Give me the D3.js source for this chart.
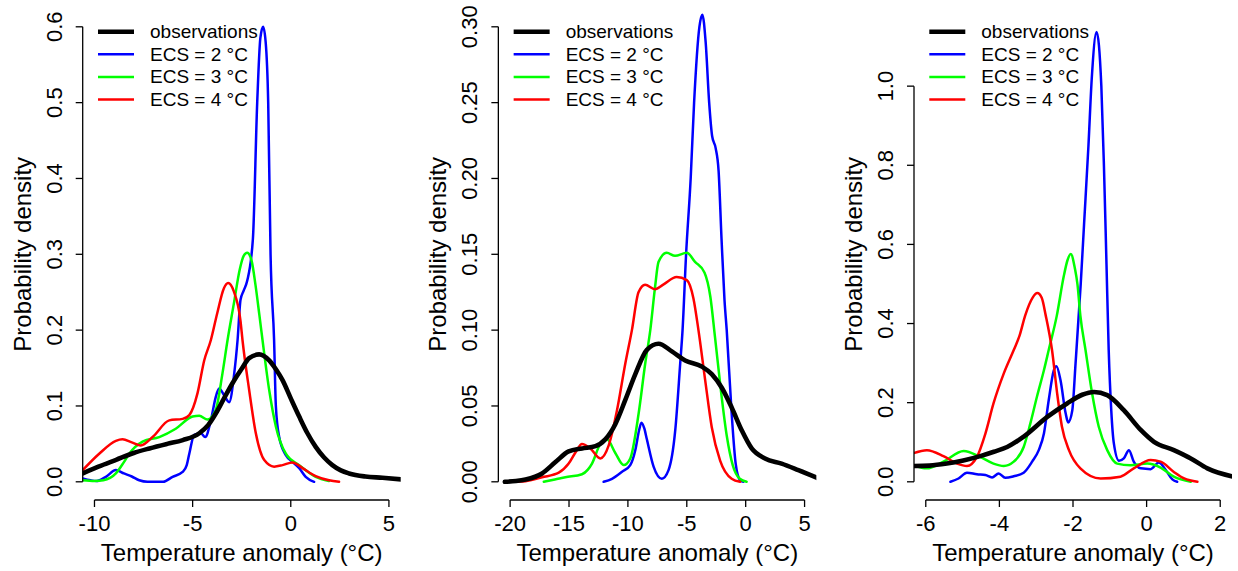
<!DOCTYPE html>
<html>
<head>
<meta charset="utf-8">
<script src="https://cdn.jsdelivr.net/npm/d3@7"></script>
<style>
  html, body { margin: 0; padding: 0; background: #fff; }
  svg { display: block; font-family: "Liberation Sans", Arial, Helvetica, sans-serif; }
</style>
</head>
<body>
<svg id="chart" width="1238" height="571"></svg>
<script>
// ---------- data ----------
const seriesNames = ["observations", "ECS = 2 °C", "ECS = 3 °C", "ECS = 4 °C"];
const seriesColors = ["#000000", "#0000ff", "#00ff00", "#ff0000"];

// Panel 1
const p1XLim = [-10, 5];
const p1YLim = [0, 0.6];
const p1XTicks = [-10, -5, 0, 5];
const p1YTicks = [0, 0.1, 0.2, 0.3, 0.4, 0.5, 0.6];
const p1YTickLabels = ["0.0", "0.1", "0.2", "0.3", "0.4", "0.5", "0.6"];
const p1Obs = [[-10.6,0.011],[-9.8,0.02],[-8.9,0.029],[-8.0,0.038],[-7.2,0.044],[-6.3,0.05],[-5.5,0.055],[-4.66,0.064],[-4.2,0.075],[-3.82,0.09],[-3.4,0.11],[-2.97,0.13],[-2.5,0.149],[-2.12,0.163],[-1.61,0.168],[-1.1,0.16],[-0.75,0.148],[-0.42,0.134],[0,0.11],[0.43,0.086],[0.85,0.064],[1.27,0.046],[1.7,0.032],[2.12,0.022],[2.55,0.015],[2.97,0.011],[3.8,0.007],[4.67,0.0053],[5.7,0.003]];
const p1Ecs2 = [[-10.6,0.0045],[-10.2,0.002],[-9.89,0.001],[-9.42,0.0066],[-8.91,0.0154],[-8.5,0.011],[-8.1,0.007],[-7.72,0.002],[-7.3,0],[-6.5,0],[-6.02,0.0066],[-5.51,0.013],[-5.3,0.022],[-5.17,0.037],[-4.92,0.062],[-4.58,0.064],[-4.36,0.059],[-4.07,0.081],[-3.82,0.112],[-3.65,0.123],[-3.39,0.114],[-3.14,0.105],[-2.88,0.143],[-2.71,0.187],[-2.56,0.24],[-2.4,0.252],[-2.22,0.265],[-1.93,0.32],[-1.71,0.5],[-1.55,0.585],[-1.41,0.6],[-1.28,0.58],[-1.15,0.5],[-1.03,0.3],[-0.85,0.187],[-0.76,0.1],[-0.59,0.059],[-0.25,0.035],[0.1,0.026],[0.43,0.018],[0.76,0.0066],[1.19,0]];
const p1Ecs3 = [[-10.6,0.002],[-10,0.001],[-9.55,0.002],[-8.91,0.011],[-8.5,0.026],[-8.23,0.037],[-7.55,0.053],[-6.7,0.059],[-5.86,0.07],[-5.0,0.086],[-4.66,0.087],[-4.24,0.082],[-3.82,0.095],[-3.48,0.143],[-3.22,0.187],[-2.9,0.235],[-2.6,0.28],[-2.4,0.298],[-2.22,0.302],[-2.0,0.292],[-1.8,0.26],[-1.6,0.22],[-1.44,0.187],[-1.1,0.121],[-0.76,0.073],[-0.25,0.037],[0.43,0.022],[1.27,0.0066],[1.95,0.001]];
const p1Ecs4 = [[-10.6,0.0154],[-9.76,0.037],[-8.91,0.054],[-8.57,0.056],[-8.1,0.052],[-7.64,0.048],[-7.04,0.059],[-6.19,0.081],[-5.51,0.083],[-5.17,0.088],[-4.75,0.117],[-4.41,0.16],[-4.07,0.187],[-3.75,0.222],[-3.41,0.255],[-3.19,0.262],[-2.9,0.251],[-2.56,0.212],[-2.46,0.187],[-2.12,0.121],[-1.78,0.064],[-1.35,0.0286],[-0.85,0.02],[-0.42,0.022],[0.09,0.0256],[0.6,0.018],[1.27,0.0075],[1.95,0.002],[2.46,0]];

// Panel 2
const p2XLim = [-20, 5];
const p2YLim = [0, 0.3];
const p2XTicks = [-20, -15, -10, -5, 0, 5];
const p2YTicks = [0, 0.05, 0.10, 0.15, 0.20, 0.25, 0.30];
const p2YTickLabels = ["0.00", "0.05", "0.10", "0.15", "0.20", "0.25", "0.30"];
const p2Obs = [[-20.45,0],[-19.5,0.0005],[-18.69,0.0015],[-17.29,0.0055],[-16.15,0.013],[-15.03,0.02],[-13.9,0.022],[-12.76,0.0235],[-11.92,0.028],[-11.07,0.038],[-10.22,0.054],[-9.37,0.071],[-8.39,0.087],[-7.4,0.091],[-6.27,0.086],[-5.14,0.080],[-3.73,0.076],[-2.88,0.071],[-2.03,0.062],[-1.19,0.049],[-0.34,0.034],[0.51,0.022],[1.64,0.0154],[3.05,0.012],[4.47,0.0077],[6.07,0.0026]];
const p2Ecs2 = [[-12.06,0],[-11.35,0.002],[-10.5,0.0066],[-9.8,0.011],[-9.37,0.021],[-9.05,0.034],[-8.85,0.039],[-8.6,0.035],[-8.39,0.028],[-7.82,0.01],[-7.12,0.002],[-6.55,0.0077],[-5.98,0.034],[-5.56,0.078],[-5.36,0.1],[-5.06,0.15],[-4.67,0.2],[-4.38,0.25],[-3.93,0.3],[-3.68,0.308],[-3.4,0.29],[-3.1,0.25],[-2.85,0.228],[-2.55,0.22],[-2.3,0.205],[-2.05,0.16],[-1.8,0.12],[-1.61,0.1],[-1.19,0.045],[-0.85,0.012],[-0.47,0.001],[-0.2,0]];
const p2Ecs3 = [[-17.14,0],[-16.2,0.0015],[-15.31,0.003],[-13.9,0.005],[-13.4,0.008],[-13.05,0.012],[-12.34,0.025],[-11.78,0.028],[-11.07,0.019],[-10.36,0.011],[-9.8,0.0154],[-9.09,0.045],[-8.53,0.078],[-8.1,0.1],[-7.7,0.128],[-7.4,0.145],[-6.7,0.151],[-6.0,0.149],[-5.0,0.151],[-4.3,0.145],[-3.5,0.138],[-3.0,0.122],[-2.6,0.095],[-2.1,0.06],[-1.6,0.03],[-1.1,0.011],[-0.5,0.002],[0.08,0]];
const p2Ecs4 = [[-20.0,0],[-18.69,0.0004],[-17.29,0.003],[-15.87,0.006],[-15.03,0.012],[-14.4,0.02],[-13.9,0.025],[-13.19,0.022],[-12.34,0.0154],[-11.63,0.024],[-10.93,0.047],[-10.22,0.078],[-9.66,0.1],[-9.1,0.125],[-8.54,0.13],[-7.7,0.127],[-7.0,0.13],[-5.86,0.135],[-5.0,0.133],[-4.44,0.121],[-4.01,0.1],[-3.44,0.067],[-2.88,0.036],[-2.17,0.014],[-1.19,0.002],[-0.47,0]];

// Panel 3
const p3XLim = [-6, 2];
const p3YLim = [0, 1.15];
const p3XTicks = [-6, -4, -2, 0, 2];
const p3YTicks = [0, 0.2, 0.4, 0.6, 0.8, 1.0];
const p3YTickLabels = ["0.0", "0.2", "0.4", "0.6", "0.8", "1.0"];
const p3Obs = [[-6.4,0.04],[-5.9,0.041],[-5.43,0.046],[-4.98,0.054],[-4.52,0.065],[-4.15,0.076],[-3.79,0.088],[-3.34,0.114],[-2.7,0.164],[-2.16,0.198],[-1.75,0.22],[-1.43,0.227],[-1.07,0.219],[-0.62,0.181],[-0.16,0.131],[0.2,0.101],[0.74,0.080],[1.2,0.059],[1.65,0.034],[2.4,0.012]];
const p3Ecs2 = [[-5.33,0],[-5.11,0.0084],[-4.88,0.023],[-4.61,0.019],[-4.38,0.017],[-4.2,0.011],[-4.02,0.021],[-3.84,0.01],[-3.61,0.014],[-3.34,0.023],[-3.11,0.051],[-2.93,0.08],[-2.79,0.122],[-2.66,0.206],[-2.52,0.282],[-2.45,0.292],[-2.34,0.257],[-2.2,0.173],[-2.13,0.15],[-2.02,0.18],[-1.93,0.3],[-1.79,0.5],[-1.7,0.65],[-1.58,0.85],[-1.49,1.02],[-1.36,1.137],[-1.23,1.0],[-1.16,0.8],[-1.09,0.55],[-1.03,0.333],[-0.96,0.18],[-0.89,0.097],[-0.75,0.053],[-0.62,0.059],[-0.48,0.08],[-0.35,0.051],[-0.16,0.034],[0.11,0.032],[0.33,0.049],[0.52,0.03],[0.7,0.006],[0.83,0]];
const p3Ecs3 = [[-6.4,0.043],[-5.97,0.034],[-5.52,0.051],[-4.97,0.078],[-4.52,0.063],[-4.16,0.046],[-3.88,0.04],[-3.61,0.051],[-3.34,0.088],[-3.16,0.147],[-2.98,0.215],[-2.79,0.282],[-2.66,0.333],[-2.44,0.42],[-2.25,0.52],[-2.15,0.56],[-2.06,0.576],[-1.95,0.54],[-1.88,0.5],[-1.8,0.42],[-1.66,0.333],[-1.48,0.223],[-1.3,0.139],[-1.07,0.080],[-0.8,0.046],[-0.44,0.042],[0.02,0.046],[0.38,0.036],[0.74,0.013],[1.2,0]];
const p3Ecs4 = [[-6.4,0.07],[-5.97,0.08],[-5.52,0.065],[-5.15,0.046],[-4.88,0.04],[-4.61,0.063],[-4.38,0.122],[-4.16,0.198],[-3.88,0.274],[-3.61,0.333],[-3.45,0.37],[-3.3,0.42],[-3.1,0.465],[-2.97,0.477],[-2.85,0.465],[-2.74,0.42],[-2.57,0.333],[-2.43,0.223],[-2.3,0.139],[-2.11,0.08],[-1.8,0.034],[-1.25,0.0084],[-0.71,0.013],[-0.35,0.034],[0.11,0.055],[0.38,0.051],[0.74,0.025],[1.02,0.0084],[1.38,0]];

const xTitle = "Temperature anomaly (°C)";
const yTitle = "Probability density";

// ---------- layout ----------
const panels = [
  { xlim: p1XLim, ylim: p1YLim, xticks: p1XTicks, yticks: p1YTicks, ylabels: p1YTickLabels, series: [p1Obs, p1Ecs2, p1Ecs3, p1Ecs4] },
  { xlim: p2XLim, ylim: p2YLim, xticks: p2XTicks, yticks: p2YTicks, ylabels: p2YTickLabels, series: [p2Obs, p2Ecs2, p2Ecs3, p2Ecs4] },
  { xlim: p3XLim, ylim: p3YLim, xticks: p3XTicks, yticks: p3YTicks, ylabels: p3YTickLabels, series: [p3Obs, p3Ecs2, p3Ecs3, p3Ecs4] }
];
const firstLeft = 82.7, panelStep = 415.65, plotW = 318;
const plotTop = 8.6, plotBottom = 500;
const tickLen = 7;
const lineWidths = [4.6, 2.5, 2.5, 2.5];

const expand = (lim) => { const d = (lim[1] - lim[0]) * 0.04; return [lim[0] - d, lim[1] + d]; };

const svg = d3.select("#chart");
const defs = svg.append("defs");

panels.forEach((p, i) => {
  const L = firstLeft + i * panelStep;
  const x = d3.scaleLinear().domain(expand(p.xlim)).range([L, L + plotW]);
  const y = d3.scaleLinear().domain(expand(p.ylim)).range([plotBottom, plotTop]);
  const g = svg.append("g");

  defs.append("clipPath").attr("id", "clip" + i)
    .append("rect").attr("x", L).attr("y", plotTop).attr("width", plotW).attr("height", plotBottom - plotTop);

  const line = d3.line().x(d => x(d[0])).y(d => y(d[1])).curve(d3.curveMonotoneX);
  const curves = g.append("g").attr("clip-path", `url(#clip${i})`);
  // coloured model curves first, observations on top
  [1, 2, 3, 0].forEach(k => {
    curves.append("path").datum(p.series[k])
      .attr("d", line)
      .attr("fill", "none")
      .attr("stroke", seriesColors[k])
      .attr("stroke-width", lineWidths[k])
      .attr("stroke-linejoin", "round")
      .attr("stroke-linecap", "round");
  });

  // x axis (R style: line spans first..last tick)
  const xa = g.append("g");
  xa.append("line")
    .attr("x1", x(p.xticks[0])).attr("x2", x(p.xticks[p.xticks.length - 1]))
    .attr("y1", plotBottom).attr("y2", plotBottom)
    .attr("stroke", "#000").attr("stroke-width", 1.3);
  xa.selectAll(".xt").data(p.xticks).enter().append("line")
    .attr("x1", d => x(d)).attr("x2", d => x(d))
    .attr("y1", plotBottom).attr("y2", plotBottom + tickLen)
    .attr("stroke", "#000").attr("stroke-width", 1.3);
  xa.selectAll(".xl").data(p.xticks).enter().append("text")
    .attr("x", d => x(d)).attr("y", 530.7)
    .attr("text-anchor", "middle").attr("font-size", 22).attr("fill", "#000")
    .text(d => d < 0 ? "-" + Math.abs(d) : String(d));

  // y axis
  const ya = g.append("g");
  ya.append("line")
    .attr("x1", L).attr("x2", L)
    .attr("y1", y(p.yticks[0])).attr("y2", y(p.yticks[p.yticks.length - 1]))
    .attr("stroke", "#000").attr("stroke-width", 1.3);
  ya.selectAll(".yt").data(p.yticks).enter().append("line")
    .attr("x1", L - tickLen).attr("x2", L)
    .attr("y1", d => y(d)).attr("y2", d => y(d))
    .attr("stroke", "#000").attr("stroke-width", 1.3);
  ya.selectAll(".yl").data(p.yticks).enter().append("text")
    .attr("transform", d => `translate(${L - 21},${y(d)}) rotate(-90)`)
    .attr("text-anchor", "middle").attr("font-size", 22).attr("fill", "#000")
    .text((d, j) => p.ylabels[j]);

  // axis titles
  g.append("text")
    .attr("x", L + plotW / 2).attr("y", 560.5)
    .attr("text-anchor", "middle").attr("font-size", 24).attr("fill", "#000")
    .text(xTitle);
  g.append("text")
    .attr("transform", `translate(${L - 52.2},${(plotTop + plotBottom) / 2}) rotate(-90)`)
    .attr("text-anchor", "middle").attr("font-size", 24).attr("fill", "#000")
    .text(yTitle);

  // legend
  const lg = g.append("g");
  seriesNames.forEach((name, k) => {
    const ry = 31.7 + k * 22.6;
    lg.append("line")
      .attr("x1", L + 15.3).attr("x2", L + 51.3)
      .attr("y1", ry).attr("y2", ry)
      .attr("stroke", seriesColors[k]).attr("stroke-width", lineWidths[k]);
    lg.append("text")
      .attr("x", L + 67.3).attr("y", ry + 6.2)
      .attr("font-size", 19).attr("fill", "#000")
      .text(name);
  });
});
</script>
</body>
</html>
